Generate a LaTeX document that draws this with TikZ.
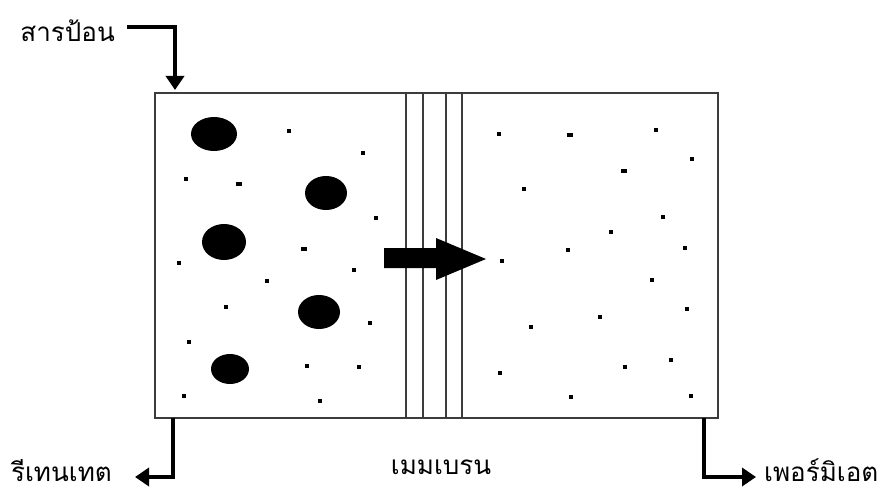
\documentclass[tikz,border=0pt]{standalone}
\usepackage{fontspec}
\newfontfamily\thaifont[Script=Thai]{Loma}
\usetikzlibrary{arrows.meta,positioning}
\definecolor{edge}{HTML}{3C3C3C}
\tikzset{
  wall/.style={draw=edge, line width=1.5pt},
  mem/.style={draw=edge, line width=1.3pt},
  dot/.style={rectangle, fill=black, inner sep=0pt, minimum size=3.5pt},
  bigdot/.style={rectangle, fill=black, inner sep=0pt, minimum width=5.5pt, minimum height=4.5pt},
  flow/.style={-{Triangle[length=14pt,width=18pt]}, line width=3.5pt},
  lbl/.style={font=\thaifont\fontsize{26}{30}\selectfont, inner sep=0pt},
}
\newcommand{\blob}[4]{\fill (#1,#2) ellipse [x radius=#3, y radius=#4];}

\begin{document}
\begin{tikzpicture}[x=1pt,y=-1pt]
  \useasboundingbox (0,0) rectangle (882,492);
  % module and membrane
  \coordinate (nw) at (155,93);
  \coordinate (se) at (718,418);
  \draw[wall] (nw) rectangle (se);
  \foreach \mx in {406,423,446,462} \draw[mem] (\mx,93) -- (\mx,418);
  % large particles
  \blob{214}{134}{23}{17}
  \blob{326}{193}{21}{17}
  \blob{224}{242}{22}{18}
  \blob{319}{312}{21}{17}
  \blob{230}{369}{19}{15}
  % small particles, feed side
  \foreach \px/\py [count=\i] in {289/131,363/153,186/179,376/218,179/263,354/270,
      267/281,226/307,370/323,189/342,307/366,359/367,184/396,320/401}
    \node[dot] (f\i) at (\px,\py) {};
  \node[bigdot] (fb1) at (239,184) {};
  \node[bigdot] (fb2) at (304,249) {};
  % small particles, permeate side
  \foreach \px/\py [count=\i] in {499/134,656/130,692/159,524/189,663/217,611/232,
      568/250,685/248,502/261,652/280,687/309,600/317,531/327,671/360,625/367,
      500/373,571/397,691/396}
    \node[dot] (p\i) at (\px,\py) {};
  \node[bigdot] (pb1) at (570,135) {};
  \node[bigdot] (pb2) at (624,171) {};
  % flow through membrane
  \fill (384,248) -- (436,248) -- (436,238) -- (486,259) -- (436,280)
    -- (436,268) -- (384,268) -- cycle;
  % labels
  \node[lbl, anchor=base east] (feed) at (115,42) {สารป้อน};
  \node[lbl, anchor=base east] (ret) at (112,481) {รีเทนเทต};
  \node[lbl, anchor=base] (memb) at (441,474) {เมมเบรน};
  \node[lbl, anchor=base west] (perm) at (764,481) {เพอร์มิเอต};
  \coordinate (feedtap) at (127,27);
  \coordinate (feedin) at (175,90);
  \coordinate (retout) at (173,418);
  \coordinate (rettip) at (135,477);
  \coordinate (permout) at (704,418);
  \coordinate (permtip) at (756,477);
  \draw[flow] (feedtap) -| (feedin);
  \draw[flow] (retout) |- (rettip);
  \draw[flow] (permout) |- (permtip);
\end{tikzpicture}
\end{document}
